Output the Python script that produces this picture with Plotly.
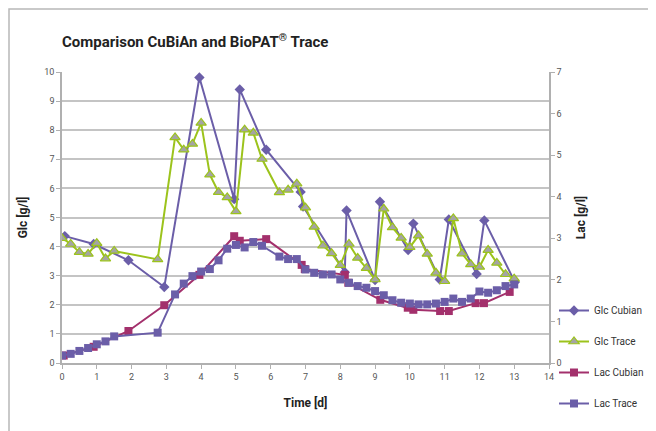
import plotly.graph_objects as go

# ---- data ----
glc_cubian_t = [0.08, 0.91, 1.91, 2.94, 3.95, 4.95, 5.11, 5.87, 6.86, 6.93, 8.13, 8.18, 9.0, 9.14, 9.95, 10.1, 10.86, 11.12, 11.92, 12.14, 13.02]
glc_cubian_v = [4.36, 4.09, 3.53, 2.61, 9.81, 5.63, 9.40, 7.33, 5.88, 5.38, 3.12, 5.24, 2.85, 5.54, 3.88, 4.79, 2.87, 4.93, 3.06, 4.90, 2.78]

glc_trace_t = [0.0, 0.25, 0.5, 0.75, 1.0, 1.25, 1.5, 2.75, 3.25, 3.5, 3.75, 4.0, 4.25, 4.5, 4.75, 5.0,
               5.25, 5.5, 5.75, 6.25, 6.5, 6.75, 7.0, 7.25, 7.5, 7.75, 8.0, 8.25, 8.5, 8.75, 9.0,
               9.25, 9.5, 9.75, 10.0, 10.25, 10.5, 10.75, 11.0, 11.25, 11.5, 11.75, 12.0, 12.25, 12.5, 12.75, 13.0]
glc_trace_v = [4.29, 4.09, 3.81, 3.75, 4.12, 3.59, 3.85, 3.56, 7.75, 7.33, 7.53, 8.25, 6.47, 5.87, 5.69, 5.21,
               8.02, 7.91, 7.01, 5.86, 5.95, 6.16, 5.34, 4.68, 4.03, 3.77, 3.36, 4.09, 3.61, 3.26, 2.87,
               5.30, 4.66, 4.30, 3.98, 4.38, 3.75, 3.10, 2.81, 4.97, 3.76, 3.39, 3.30, 3.88, 3.44, 3.05, 2.90]

lac_cubian_t = [0.05, 0.91, 1.91, 2.94, 3.95, 4.95, 5.11, 5.87, 6.89, 6.98, 8.13, 8.23, 9.15, 9.94, 10.1, 10.87, 11.12, 11.89, 12.13, 12.87]
lac_cubian_v = [0.18, 0.39, 0.77, 1.39, 2.12, 3.05, 2.94, 2.98, 2.36, 2.26, 2.12, 1.93, 1.52, 1.33, 1.28, 1.25, 1.25, 1.44, 1.44, 1.71]

lac_trace_t = glc_trace_t
lac_trace_v = [0.18, 0.22, 0.29, 0.36, 0.45, 0.52, 0.64, 0.73, 1.65, 1.91, 2.09, 2.20, 2.26, 2.47, 2.75, 2.84,
               2.78, 2.91, 2.82, 2.56, 2.50, 2.50, 2.25, 2.17, 2.13, 2.13, 2.01, 1.93, 1.85, 1.81, 1.73,
               1.63, 1.51, 1.45, 1.43, 1.41, 1.41, 1.43, 1.47, 1.55, 1.47, 1.55, 1.72, 1.69, 1.75, 1.85, 1.89]

x_ticks = list(range(0, 15))
glc_ticks = list(range(0, 11))
lac_ticks = list(range(0, 8))

PURPLE = "#6b5ea8"
GREEN = "#9cc31c"
MAGENTA = "#a3306c"
GRAYM = "#a4a4a4"
FONT = "Liberation Sans Narrow, Arial Narrow, Roboto, sans-serif"

# page body has an 8px margin: figure coords = screen coords - 8
OFF = 8
W, H = 656, 431
L, T = 62 - OFF, 72 - OFF
R = W - (549 - OFF)
B = H - (363 - OFF)
PW, PH = W - L - R, H - T - B

fig = go.Figure()
fig.add_trace(go.Scatter(x=glc_cubian_t, y=glc_cubian_v, name="Glc Cubian", mode="lines+markers",
                         line=dict(color=PURPLE, width=2),
                         marker=dict(symbol="diamond", size=8, color=PURPLE),
                         legendgroup="a", yaxis="y"))
fig.add_trace(go.Scatter(x=glc_trace_t, y=glc_trace_v, name="Glc Trace", mode="lines+markers",
                         line=dict(color=GREEN, width=2),
                         marker=dict(symbol="triangle-up", size=9, color=GRAYM, line=dict(color=GREEN, width=1.2)),
                         legendgroup="b", yaxis="y"))
fig.add_trace(go.Scatter(x=lac_cubian_t, y=lac_cubian_v, name="Lac Cubian", mode="lines+markers",
                         line=dict(color=MAGENTA, width=2),
                         marker=dict(symbol="square", size=8, color=MAGENTA),
                         legendgroup="c", yaxis="y2"))
fig.add_trace(go.Scatter(x=lac_trace_t, y=lac_trace_v, name="Lac Trace", mode="lines+markers",
                         line=dict(color=PURPLE, width=2),
                         marker=dict(symbol="square", size=8, color=PURPLE),
                         legendgroup="d", yaxis="y2"))

tickfont = dict(family=FONT, size=9, color="#555555")
titlefont = dict(family=FONT, size=12, color="#222222")

fig.update_layout(
    width=W, height=H,
    margin=dict(l=L, r=R, t=T, b=B, autoexpand=False),
    paper_bgcolor="white", plot_bgcolor="white",
    font=dict(family=FONT),
    showlegend=True,
    title=dict(text="<b>Comparison CuBiAn and BioPAT<sup>®</sup> Trace</b>",
               x=(62 - OFF) / W, xanchor="left", y=1 - (42 - OFF) / H, yanchor="middle",
               font=dict(family=FONT, size=15, color="#222222")),
    xaxis=dict(range=[0, 14], tickvals=x_ticks, showgrid=False, zeroline=False,
               showline=True, linecolor="#b0b0b0", linewidth=1.5,
               ticks="outside", ticklen=4, tickcolor="#b0b0b0", tickfont=tickfont,
               title=dict(text="<b>Time [d]</b>", font=titlefont, standoff=18)),
    yaxis=dict(range=[0, 10], tickvals=glc_ticks, showgrid=True, gridcolor="#c4c4c4", gridwidth=1.5,
               zeroline=False, showline=True, linecolor="#b0b0b0", linewidth=1.5,
               ticks="outside", ticklen=4, tickcolor="#b0b0b0", tickfont=tickfont,
               title=dict(text="<b>Glc [g/l]</b>", font=titlefont, standoff=14)),
    yaxis2=dict(range=[0, 7], tickvals=lac_ticks, overlaying="y", side="right", showgrid=False,
                zeroline=False, showline=True, linecolor="#b0b0b0", linewidth=1.5,
                ticks="outside", ticklen=4, tickcolor="#b0b0b0", tickfont=tickfont,
                title=dict(text="<b>Lac [g/l]</b>", font=titlefont, standoff=16)),
    legend=dict(x=(554 - OFF - L) / PW, xanchor="left", y=(H - B - (296 - OFF)) / PH, yanchor="top",
                font=dict(family=FONT, size=10, color="#333333"),
                tracegroupgap=12, bgcolor="rgba(0,0,0,0)"),
    shapes=[dict(type="rect", xref="paper", yref="paper",
                 x0=-(L - 1) / PW, x1=1.5, y0=-0.5, y1=1 + (T - 1) / PH,
                 line=dict(color="#b8b8b8", width=1.5), fillcolor="rgba(0,0,0,0)", layer="below")],
)

fig.write_html("out.html")
